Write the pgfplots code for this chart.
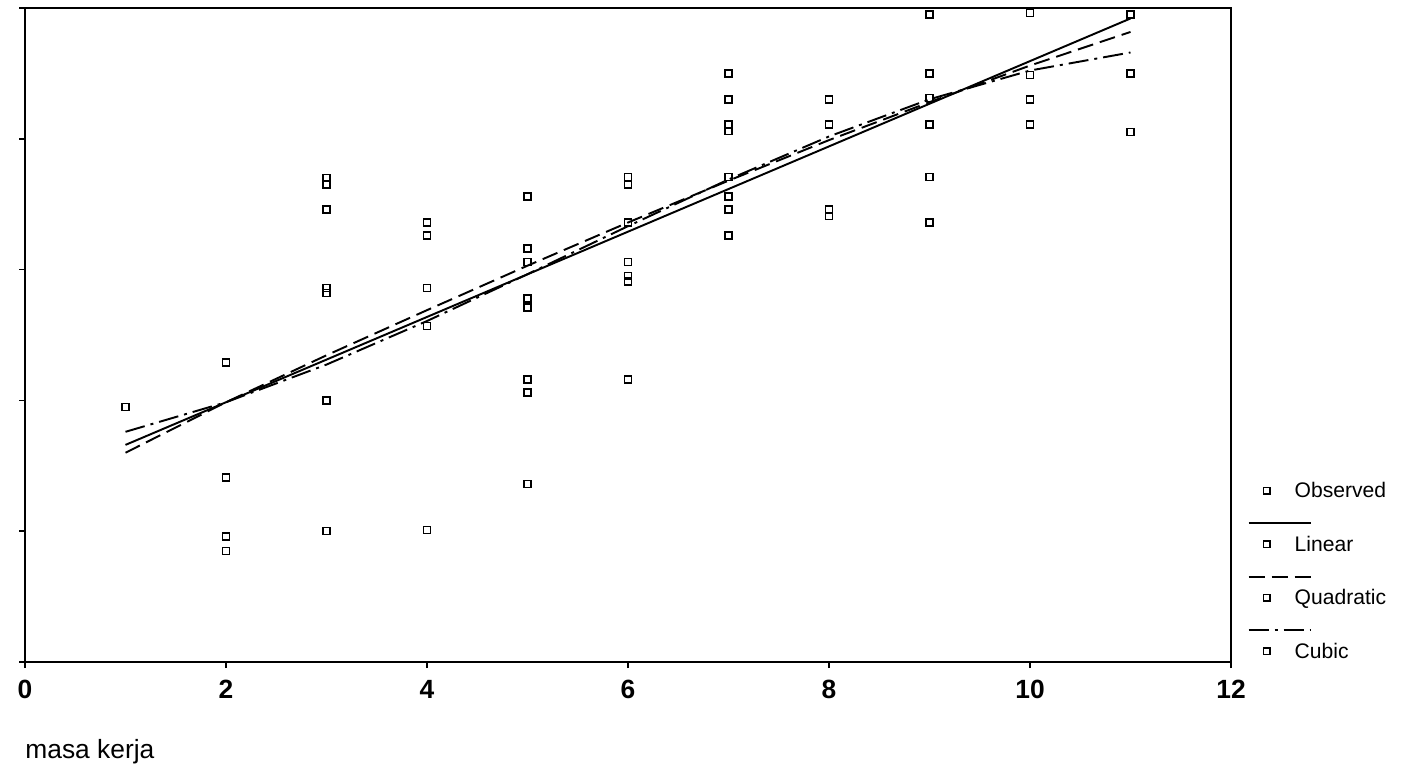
\documentclass[border=0pt]{standalone}
\usepackage{fontspec}
\setmainfont{Liberation Sans}
\usepackage{pgfplots}
\pgfplotsset{compat=1.18}

% observed points: masa kerja vs. response
\pgfplotstableread{
x y
1 1.95
2 2.29
2 1.41
2 0.96
2 0.85
3 3.70
3 3.65
3 3.46
3 2.86
3 2.82
3 2.00
3 1.00
4 3.36
4 3.26
4 2.86
4 2.57
4 1.01
5 3.56
5 3.16
5 3.06
5 2.78
5 2.71
5 2.16
5 2.06
5 1.36
6 3.71
6 3.65
6 3.36
6 3.06
6 2.95
6 2.91
6 2.16
7 4.50
7 4.30
7 4.11
7 4.06
7 3.71
7 3.56
7 3.46
7 3.26
8 4.30
8 4.11
8 3.46
8 3.41
9 4.95
9 4.50
9 4.31
9 4.11
9 3.71
9 3.36
10 4.96
10 4.49
10 4.30
10 4.11
11 4.95
11 4.50
11 4.05
}\observed

% fitted curves
\pgfplotstableread{
x lin quad cub
1 1.660 1.600 1.760
2 1.986 1.986 1.986
3 2.312 2.345 2.274
4 2.638 2.690 2.607
5 2.964 3.030 2.965
6 3.290 3.360 3.332
7 3.616 3.680 3.689
8 3.942 3.990 4.018
9 4.268 4.280 4.302
10 4.594 4.560 4.522
11 4.920 4.817 4.660
}\fits

\pgfplotsset{
  sample/.style={legend image code/.code={
      \draw[##1, overlay] (-1.8mm,2.1mm) -- (4.4mm,2.1mm);
      \draw[black, solid, line width=0.4pt] (-0.33mm,-0.33mm) rectangle (0.33mm,0.33mm);
  }},
}

\begin{document}
\begin{tikzpicture}[x=1mm,y=1mm]
\useasboundingbox (-2.5mm,-11.1mm) rectangle (137.9mm,66.2mm);
\begin{axis}[
  anchor=south west, at={(0,0)},
  scale only axis,
  width=120.6mm, height=65.4mm,
  xmin=0, xmax=12, ymin=0, ymax=5,
  xtick={0,2,...,12},
  ytick={0,1,...,5},
  yticklabels={},
  minor tick num=0,
  tick align=outside,
  xtick pos=bottom, ytick pos=left,
  major tick length=0.6mm,
  axis line style={line width=0.6pt},
  tick style={line width=0.5pt, black},
  tick label style={font=\fontsize{7.5}{8}\selectfont\bfseries},
  /pgf/number format/assume math mode=true,
  xlabel={masa kerja},
  x label style={at={(axis description cs:0,0)}, anchor=base west,
                 xshift=-1.2mm, yshift=-9.6mm, font=\fontsize{7.5}{8}\selectfont},
  legend style={draw=none, fill=none, at={(axis description cs:1,0)},
                anchor=south west, xshift=3.1mm, yshift=-0.3mm,
                inner sep=0pt, row sep=2.75mm, column sep=2.4mm,
                font=\fontsize{6}{7}\selectfont,
                nodes={inner sep=0pt, text height=2mm, text depth=0.6mm}},
  legend cell align=left,
]
\addplot[only marks, mark=square, mark size=0.35mm, black, line width=0.4pt,
  legend image code/.code={\draw[black, line width=0.4pt] (-0.33mm,-0.33mm) rectangle (0.33mm,0.33mm);}]
  table[x=x, y=y] {\observed};
\addlegendentry{Observed}
\addplot[black, solid, line width=0.55pt, sample] table[x=x, y=lin] {\fits};
\addlegendentry{Linear}
\addplot[black, line width=0.55pt, dash pattern=on 1.6mm off 0.7mm, sample] table[x=x, y=quad] {\fits};
\addlegendentry{Quadratic}
\addplot[black, line width=0.55pt, dash pattern=on 2mm off 0.6mm on 0.3mm off 0.6mm, sample] table[x=x, y=cub] {\fits};
\addlegendentry{Cubic}
\end{axis}
\end{tikzpicture}
\end{document}
